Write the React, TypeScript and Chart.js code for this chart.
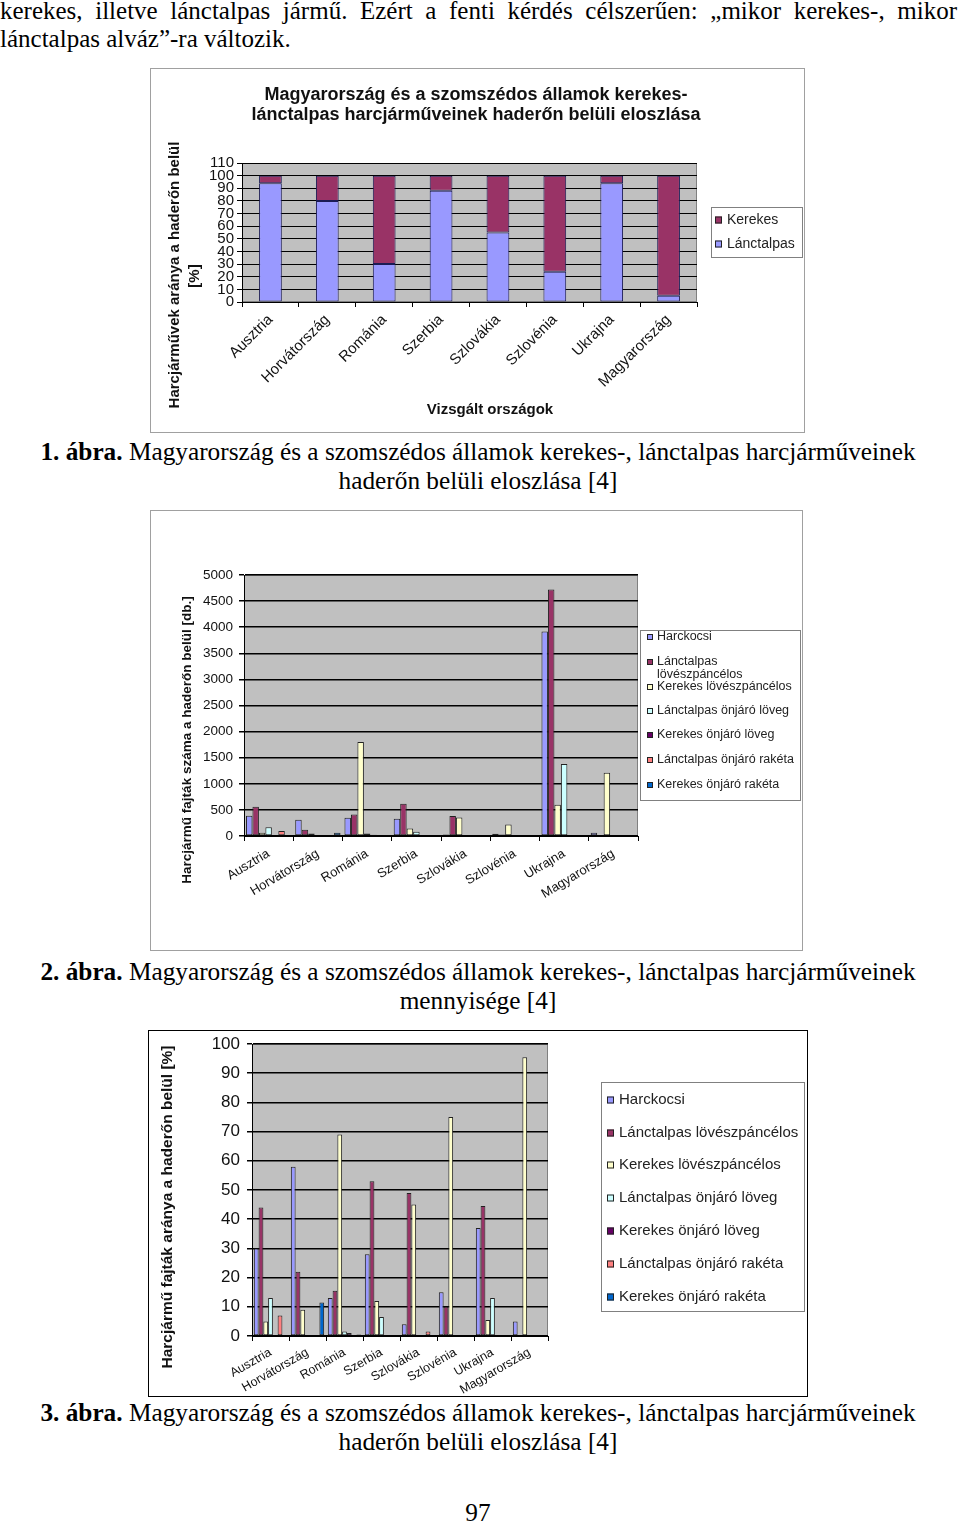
import React, { useEffect, useRef } from 'react';
import { Chart, registerables } from 'chart.js';

// ---------------- DATA ----------------
const countries = ['Ausztria', 'Horvátország', 'Románia', 'Szerbia', 'Szlovákia', 'Szlovénia', 'Ukrajna', 'Magyarország'];

// Chart 1: share of tracked / wheeled vehicles [%]
const lanctalpasPct = [94, 80, 30, 88, 55, 24, 94, 5];
const kerekesPct = [6, 20, 70, 12, 45, 76, 6, 95];

// Vehicle type names (series)
const typeNames = [
  'Harckocsi',
  'Lánctalpas lövészpáncélos',
  'Kerekes lövészpáncélos',
  'Lánctalpas önjáró löveg',
  'Kerekes önjáró löveg',
  'Lánctalpas önjáró rakéta',
  'Kerekes önjáró rakéta',
];
const typeColors = ['#9999FF', '#993366', '#FFFFCC', '#CCFFFF', '#660066', '#FF8080', '#0066CC'];

// Chart 2: quantities [db.]
const harckocsiDb = [390, 310, 350, 330, 30, 45, 3920, 60];
const lanctLoveszDb = [560, 120, 410, 620, 385, 30, 4720, 0];
const kerekLoveszDb = [60, 48, 1800, 145, 355, 220, 600, 1210];
const lanctLovegDb = [170, 0, 50, 80, 0, 0, 1380, 0];
const kerekLovegDb = [0, 0, 25, 0, 0, 0, 0, 0];
const lanctRaketaDb = [95, 0, 0, 0, 12, 0, 0, 0];
const kerekRaketaDb = [0, 62, 20, 0, 0, 0, 0, 0];

// Chart 3: shares [%]
const harckocsiPct = [30, 58, 13, 28, 4, 15, 37, 5];
const lanctLoveszPct = [44, 22, 15.5, 53, 49, 10, 44.5, 0];
const kerekLoveszPct = [5, 9, 69, 12, 45, 75, 5.5, 95.5];
const lanctLovegPct = [13, 0, 1.5, 6.5, 0, 0, 13, 0];
const kerekLovegPct = [0, 0, 1, 0, 0, 0, 0, 0];
const lanctRaketaPct = [7, 0, 0, 0, 1.5, 0, 0, 0];
const kerekRaketaPct = [0, 11.5, 0.5, 0, 0, 0, 0, 0];

const dbSeries = [harckocsiDb, lanctLoveszDb, kerekLoveszDb, lanctLovegDb, kerekLovegDb, lanctRaketaDb, kerekRaketaDb];
const pctSeries = [harckocsiPct, lanctLoveszPct, kerekLoveszPct, lanctLovegPct, kerekLovegPct, lanctRaketaPct, kerekRaketaPct];

// ---------------- PLUGINS ----------------
const FONT = "'Liberation Sans', Arial, Helvetica, sans-serif";

const plotBg = {
  id: 'plotBg',
  beforeDraw(chart: any, _a: any, opts: any) {
    if (!opts || !opts.color) return;
    const { ctx, chartArea: a } = chart;
    ctx.save();
    ctx.fillStyle = opts.color;
    ctx.fillRect(a.left, a.top, a.right - a.left, a.bottom - a.top);
    ctx.strokeStyle = opts.border || '#808080';
    ctx.lineWidth = 1;
    ctx.strokeRect(a.left + 0.5, a.top + 0.5, a.right - a.left - 1, a.bottom - a.top - 1);
    ctx.restore();
  },
};

const extraTexts = {
  id: 'extraTexts',
  afterDraw(chart: any, _a: any, opts: any) {
    const items = (opts && opts.items) || [];
    const ctx = chart.ctx;
    for (const it of items) {
      ctx.save();
      ctx.translate(it.x, it.y);
      if (it.rotation) ctx.rotate((it.rotation * Math.PI) / 180);
      ctx.font = it.font;
      ctx.fillStyle = it.color || '#111';
      ctx.textAlign = it.align || 'center';
      ctx.textBaseline = 'middle';
      ctx.fillText(it.text, 0, 0);
      ctx.restore();
    }
  },
};

const boxLegend = {
  id: 'boxLegend',
  afterDraw(chart: any, _a: any, opts: any) {
    if (!opts || !opts.box) return;
    const { ctx } = chart;
    const b = opts.box;
    ctx.save();
    ctx.fillStyle = '#fff';
    ctx.fillRect(b.x, b.y, b.w, b.h);
    ctx.strokeStyle = opts.borderColor || '#808080';
    ctx.lineWidth = 1;
    ctx.strokeRect(b.x + 0.5, b.y + 0.5, b.w - 1, b.h - 1);
    ctx.font = opts.font;
    ctx.textBaseline = 'middle';
    ctx.textAlign = 'left';
    const order: number[] = opts.order || chart.data.datasets.map((_: any, i: number) => i);
    const m = opts.marker;
    order.forEach((di, k) => {
      const ds = chart.data.datasets[di];
      const y = opts.rows[k];
      ctx.fillStyle = ds.backgroundColor;
      ctx.fillRect(opts.markerX, y - m / 2, m, m);
      ctx.strokeStyle = '#222';
      ctx.strokeRect(opts.markerX + 0.5, y - m / 2 + 0.5, m - 1, m - 1);
      ctx.fillStyle = opts.color || '#222';
      const lines = opts.wrap && opts.wrap[di] ? String(ds.label).split(' ') : [String(ds.label)];
      lines.forEach((ln: string, li: number) => ctx.fillText(ln, opts.textX, y + li * (opts.wrapGap || 13)));
    });
    ctx.restore();
  },
};

Chart.register(...registerables, plotBg, extraTexts, boxLegend);

function yScale(max: number, step: number, fontSize: number, width: number, gridW = 1, pad = 4) {
  return {
    min: 0,
    max,
    ticks: {
      stepSize: step,
      autoSkip: false,
      font: { size: fontSize, family: FONT },
      color: '#111',
      padding: pad,
      callback: (v: any) => String(v),
    },
    grid: { color: '#000', lineWidth: gridW, tickLength: 5, drawTicks: true },
    border: { display: true, color: '#000', width: 1 },
    afterFit: (s: any) => {
      s.width = width;
      s.paddingTop = 0;
      s.paddingBottom = 0;
    },
  };
}

function xScale(rot: number, fontSize: number, height: number, pad = 2) {
  return {
    ticks: { minRotation: rot, maxRotation: rot, autoSkip: false, font: { size: fontSize, family: FONT }, color: '#111', padding: pad },
    grid: { drawOnChartArea: false, drawTicks: true, tickLength: 5, color: '#000', offset: true },
    border: { display: true, color: '#000', width: 1 },
    afterFit: (s: any) => {
      s.height = height;
    },
  };
}

function typeDatasets(series: number[][]) {
  return series.map((d, i) => ({
    label: typeNames[i],
    data: d,
    backgroundColor: typeColors[i],
    borderColor: '#222',
    borderWidth: 1,
    borderSkipped: false,
  }));
}

// ---------------- CHART CONFIGS ----------------
function chart1Config(): any {
  return {
    type: 'bar',
    data: {
      labels: countries,
      datasets: [
        { label: 'Lánctalpas', data: lanctalpasPct, backgroundColor: '#9999FF', borderColor: '#1c1c55', borderWidth: 1, borderSkipped: false },
        { label: 'Kerekes', data: kerekesPct, backgroundColor: '#993366', borderColor: '#1c1c55', borderWidth: 1, borderSkipped: false },
      ],
    },
    options: {
      responsive: false,
      animation: false,
      layout: { padding: { top: 94, right: 107, left: 0, bottom: 0 } },
      datasets: { bar: { barPercentage: 0.4, categoryPercentage: 1 } },
      scales: {
        x: { ...xScale(45, 15, 130, 4), stacked: true },
        y: { ...yScale(110, 10, 15, 91, 1, 3), stacked: true },
      },
      plugins: {
        legend: { display: false },
        tooltip: { enabled: false },
        plotBg: { color: '#C0C0C0' },
        extraTexts: {
          items: [
            { text: 'Magyarország és a szomszédos államok kerekes-', x: 325, y: 26, font: `bold 18px ${FONT}` },
            { text: 'lánctalpas harcjárműveinek haderőn belüli eloszlása', x: 325, y: 46, font: `bold 18px ${FONT}` },
            { text: 'Harcjárművek aránya a haderőn belül', x: 24, y: 206, rotation: -90, font: `bold 15px ${FONT}` },
            { text: '[%]', x: 44, y: 207, rotation: -90, font: `bold 15px ${FONT}` },
            { text: 'Vizsgált országok', x: 339, y: 341, font: `bold 15px ${FONT}` },
          ],
        },
        boxLegend: {
          box: { x: 560, y: 138, w: 92, h: 51 },
          order: [1, 0],
          rows: [151, 175],
          markerX: 564,
          marker: 7,
          textX: 576,
          font: `14px ${FONT}`,
        },
      },
    },
  };
}

function chart2Config(): any {
  return {
    type: 'bar',
    data: { labels: countries, datasets: typeDatasets(dbSeries) },
    options: {
      responsive: false,
      animation: false,
      layout: { padding: { top: 64, right: 164, left: 0, bottom: 0 } },
      datasets: { bar: { barPercentage: 1, categoryPercentage: 0.92 } },
      scales: {
        x: xScale(31, 13, 114, 5),
        y: yScale(5000, 500, 13.5, 93, 1.5, 6),
      },
      plugins: {
        legend: { display: false },
        tooltip: { enabled: false },
        plotBg: { color: '#C0C0C0' },
        extraTexts: {
          items: [
            { text: 'Harcjármű fajták száma a haderőn belül [db.]', x: 36, y: 229, rotation: -90, font: `bold 13.5px ${FONT}` },
          ],
        },
        boxLegend: {
          box: { x: 489, y: 119, w: 161, h: 171 },
          rows: [126, 151, 176, 200, 224, 249, 274],
          markerX: 496,
          marker: 6,
          textX: 506,
          font: `12.5px ${FONT}`,
          wrap: { 1: true },
          wrapGap: 13,
        },
      },
    },
  };
}

function chart3Config(): any {
  return {
    type: 'bar',
    data: { labels: countries, datasets: typeDatasets(pctSeries) },
    options: {
      responsive: false,
      animation: false,
      layout: { padding: { top: 13, right: 259, left: 0, bottom: 0 } },
      datasets: { bar: { barPercentage: 1, categoryPercentage: 0.9 } },
      scales: {
        x: xScale(30, 12.5, 60, 4),
        y: yScale(100, 10, 17, 103, 1.5, 7),
      },
      plugins: {
        legend: { display: false },
        tooltip: { enabled: false },
        plotBg: { color: '#C0C0C0' },
        extraTexts: {
          items: [
            { text: 'Harcjármű fajták aránya a haderőn belül [%]', x: 19, y: 176, rotation: -90, font: `bold 15.5px ${FONT}` },
          ],
        },
        boxLegend: {
          box: { x: 452, y: 51, w: 204, h: 230 },
          rows: [69, 102, 134, 167, 200, 233, 266],
          markerX: 458,
          marker: 7,
          textX: 470,
          font: `15px ${FONT}`,
        },
      },
    },
  };
}

// ---------------- COMPONENTS ----------------
function ChartCanvas({ w, h, build }: { w: number; h: number; build: () => any }) {
  const ref = useRef<HTMLCanvasElement | null>(null);
  useEffect(() => {
    const chart = new Chart(ref.current as HTMLCanvasElement, build());
    return () => chart.destroy();
  }, []);
  return <canvas ref={ref} width={w} height={h} style={{ display: 'block', width: w, height: h }} />;
}

const textFont = "'Liberation Serif', 'Times New Roman', Times, serif";

function Caption({ top, num, line1, line2 }: { top: number; num: string; line1: string; line2: string }) {
  return (
    <div style={{ position: 'absolute', left: 0, top, width: 956, textAlign: 'center', fontSize: 25.3, lineHeight: '29px' }}>
      <div style={{ whiteSpace: 'nowrap' }}>
        <b>{num}</b> {line1}
      </div>
      <div style={{ whiteSpace: 'nowrap' }}>{line2}</div>
    </div>
  );
}

export default function App() {
  return (
    <div
      style={{
        position: 'absolute',
        left: 0,
        top: 0,
        width: 960,
        height: 1523,
        background: '#fff',
        color: '#000',
        fontFamily: textFont,
        overflow: 'hidden',
      }}
    >
      <div style={{ position: 'absolute', left: 0, top: -3, width: 957, fontSize: 25, lineHeight: '28px' }}>
        <div style={{ textAlign: 'justify', textAlignLast: 'justify' }}>
          kerekes, illetve lánctalpas jármű. Ezért a fenti kérdés célszerűen: „mikor kerekes-, mikor
        </div>
        <div>lánctalpas alváz”-ra változik.</div>
      </div>

      <div style={{ position: 'absolute', left: 150, top: 68, width: 655, height: 365, border: '1px solid #a0a0a0', boxSizing: 'border-box' }}>
        <ChartCanvas w={653} h={363} build={chart1Config} />
      </div>
      <Caption
        top={437}
        num="1. ábra."
        line1="Magyarország és a szomszédos államok kerekes-, lánctalpas harcjárműveinek"
        line2="haderőn belüli eloszlása [4]"
      />

      <div style={{ position: 'absolute', left: 150, top: 510, width: 653, height: 441, border: '1px solid #a0a0a0', boxSizing: 'border-box' }}>
        <ChartCanvas w={651} h={439} build={chart2Config} />
      </div>
      <Caption
        top={957}
        num="2. ábra."
        line1="Magyarország és a szomszédos államok kerekes-, lánctalpas harcjárműveinek"
        line2="mennyisége [4]"
      />

      <div style={{ position: 'absolute', left: 148, top: 1030, width: 660, height: 367, border: '1px solid #000', boxSizing: 'border-box' }}>
        <ChartCanvas w={658} h={365} build={chart3Config} />
      </div>
      <Caption
        top={1398}
        num="3. ábra."
        line1="Magyarország és a szomszédos államok kerekes-, lánctalpas harcjárműveinek"
        line2="haderőn belüli eloszlása [4]"
      />

      <div style={{ position: 'absolute', left: 0, top: 1498, width: 956, textAlign: 'center', fontSize: 25.3, lineHeight: '29px' }}>97</div>
    </div>
  );
}
